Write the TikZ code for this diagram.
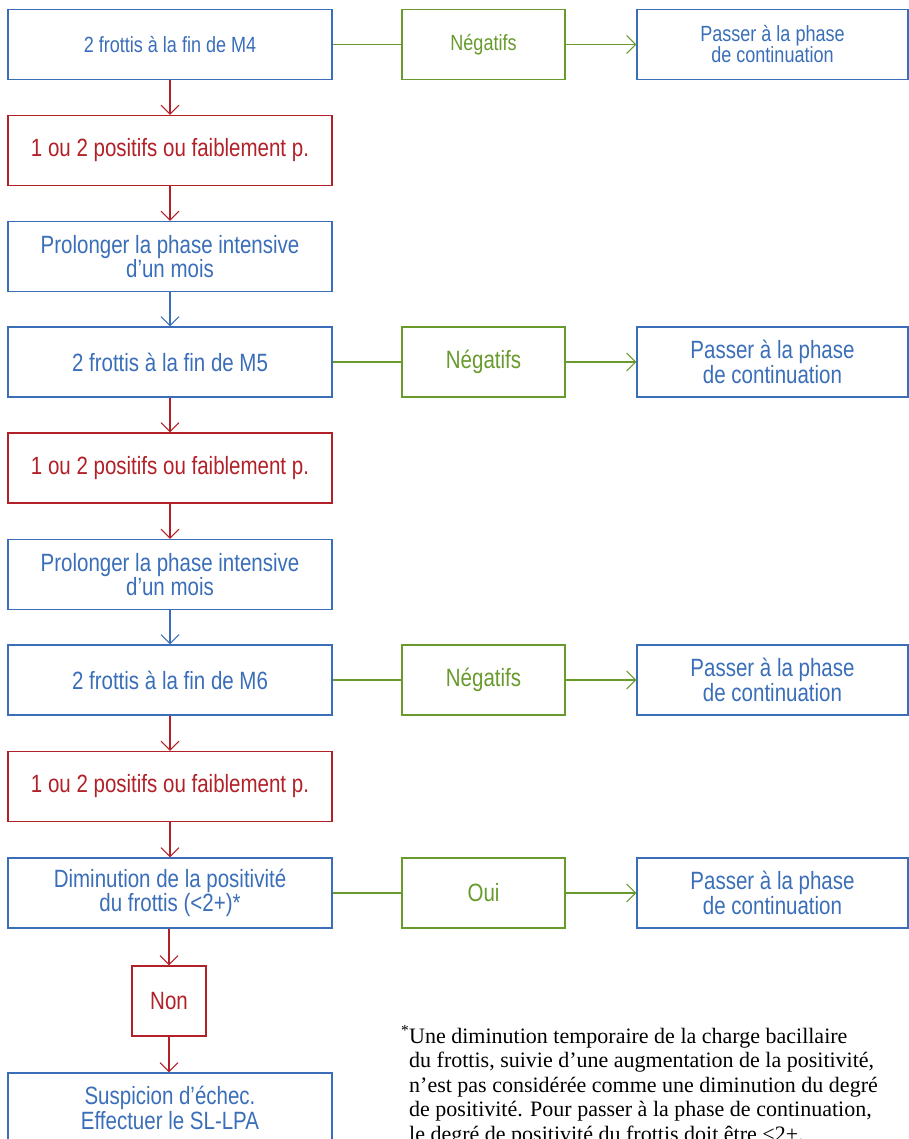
\documentclass[tikz,border=0pt]{standalone}
\usepackage{fontspec}
\setmainfont{Liberation Serif}
\setsansfont{Liberation Sans}[FakeStretch=0.82]
\usetikzlibrary{arrows.meta}
\definecolor{fblue}{RGB}{58,110,184}
\definecolor{fred}{RGB}{178,32,40}
\definecolor{fgreen}{RGB}{104,154,44}
\tikzset{%
  flowbox/.style  = {shape=rectangle, draw, line width=1.1pt, align=center,%
                     inner sep=0pt, minimum height=70pt,%
                     font=\sffamily\fontsize{25}{24.5}\selectfont},%
  bluebox/.style  = {flowbox, draw=fblue, text=fblue},%
  redbox/.style   = {flowbox, draw=fred, text=fred},%
  greenbox/.style = {flowbox, draw=fgreen, text=fgreen, minimum width=163pt},%
  leftbox/.style  = {minimum width=324pt},%
  rightbox/.style = {bluebox, minimum width=271pt},%
  small/.style    = {font=\sffamily\fontsize{22}{21}\selectfont},%
  flow/.style     = {line width=1.1pt, -{Straight Barb[length=9pt,width=18pt,line width=1.1pt]}},%
  redflow/.style  = {flow, draw=fred},%
  blueflow/.style = {flow, draw=fblue},%
  greenline/.style= {line width=1.1pt, draw=fgreen},%
  greenflow/.style= {flow, draw=fgreen}%
}
\begin{document}
\begin{tikzpicture}[x=1pt,y=-1pt]
	\useasboundingbox (0,0) rectangle (909,1139);
	\clip (0,0) rectangle (909,1139);
	% left column
	\node (m4)   at (170,44.5)  [bluebox,leftbox,small] {2 frottis à la fin de M4};
	\node (pos1) at (170,150.5) [redbox,leftbox] {1 ou 2 positifs ou faiblement p.};
	\node (pro1) at (170,256.5) [bluebox,leftbox] {Prolonger la phase intensive\\d’un mois};
	\node (m5)   at (170,362)   [bluebox,leftbox] {2 frottis à la fin de M5};
	\node (pos2) at (170,468)   [redbox,leftbox] {1 ou 2 positifs ou faiblement p.};
	\node (pro2) at (170,574.5) [bluebox,leftbox] {Prolonger la phase intensive\\d’un mois};
	\node (m6)   at (170,680)   [bluebox,leftbox] {2 frottis à la fin de M6};
	\node (pos3) at (170,786.5) [redbox,leftbox] {1 ou 2 positifs ou faiblement p.};
	\node (dim)  at (170,893)   [bluebox,leftbox] {Diminution de la positivité\\du frottis (<2+)*};
	\node (non)  at (169,1001)  [redbox,minimum width=74pt] {Non};
	\node (susp) at (170,1108)  [bluebox,leftbox] {Suspicion d’échec.\\Effectuer le SL-LPA};
	% middle and right columns
	\node (neg1) at (483.5,44.5) [greenbox,small] {Négatifs};
	\node (neg2) at (483.5,362)  [greenbox] {Négatifs};
	\node (neg3) at (483.5,680)  [greenbox] {Négatifs};
	\node (oui)  at (483.5,893)  [greenbox] {Oui};
	\node (cont1) at (772.5,44.5) [rightbox,small] {Passer à la phase\\de continuation};
	\node (cont2) at (772.5,362)  [rightbox] {Passer à la phase\\de continuation};
	\node (cont3) at (772.5,680)  [rightbox] {Passer à la phase\\de continuation};
	\node (cont4) at (772.5,893)  [rightbox] {Passer à la phase\\de continuation};
	% vertical connectors
	\draw[redflow]  (m4) -- (pos1);
	\draw[redflow]  (pos1) -- (pro1);
	\draw[blueflow] (pro1) -- (m5);
	\draw[redflow]  (m5) -- (pos2);
	\draw[redflow]  (pos2) -- (pro2);
	\draw[blueflow] (pro2) -- (m6);
	\draw[redflow]  (m6) -- (pos3);
	\draw[redflow]  (pos3) -- (dim);
	\draw[redflow]  (dim.south -| non) -- (non);
	\draw[redflow]  (non) -- (susp.north -| non);
	% horizontal connectors
	\draw[greenline] (m4) -- (neg1);   \draw[greenflow] (neg1) -- (cont1);
	\draw[greenline] (m5) -- (neg2);   \draw[greenflow] (neg2) -- (cont2);
	\draw[greenline] (m6) -- (neg3);   \draw[greenflow] (neg3) -- (cont3);
	\draw[greenline] (dim) -- (oui);   \draw[greenflow] (oui) -- (cont4);
	% footnote (last line cut by the page edge)
	\node (note) at (409,1141) [anchor=base west, align=left, inner sep=0pt,%
		font=\rmfamily\fontsize{22}{24.5}\selectfont]
		{\llap{\textsuperscript{*}}Une diminution temporaire de la charge bacillaire\\
		 du frottis, suivie d’une augmentation de la positivité,\\
		 n’est pas considérée comme une diminution du degré\\
		 de positivité. Pour passer à la phase de continuation,\\
		 le degré de positivité du frottis doit être <2+.};
\end{tikzpicture}
\end{document}
